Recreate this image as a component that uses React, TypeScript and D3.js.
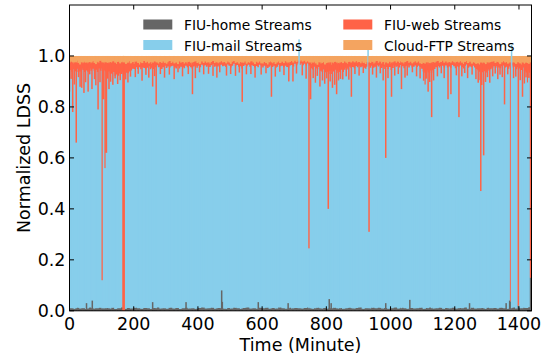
import React from 'react';
import * as d3 from 'd3';

const WIDTH = 547;
const HEIGHT = 358;
const PLOT = { left: 69.5, right: 531.5, top: 5, bottom: 310.8 };
const FONT = '"DejaVu Sans", sans-serif';

const layerKeys = ['home', 'mail', 'web', 'ftp'];
const layerNames = ['FIU-home Streams', 'FIU-mail Streams', 'FIU-web Streams', 'Cloud-FTP Streams'];
const layerColors = ['#666666', '#87ceeb', '#ff6347', '#f4a460'];

const xTicks = [0, 200, 400, 600, 800, 1000, 1200, 1400];
const yTicks = [0, 0.2, 0.4, 0.6, 0.8, 1.0];
const yTickLabels = ['0.0', '0.2', '0.4', '0.6', '0.8', '1.0'];

// FIU-mail share, one value every 5 minutes (minute 0 .. 1435)
const mailShare = [
  .935, .928, .940, .932, .925, .938, .930, .942, .934, .926, .936, .931,
  .938, .929, .941, .933, .936, .927, .939, .930, .943, .935, .928, .937,
  .930, .922, .918, .925, .915, .920, .912, .921, .916, .923, .919, .926,
  .921, .928, .934, .941, .937, .944, .939, .946, .940, .948, .942, .936,
  .944, .950, .941, .947, .938, .945, .951, .943, .949, .940, .946, .952,
  .945, .951, .943, .948, .953, .946, .940, .949, .944, .951, .947, .942,
  .950, .944, .952, .947, .941, .949, .954, .946, .951, .945, .953, .948,
  .955, .949, .953, .947, .952, .956, .950, .954, .948, .953, .957, .951,
  .954, .949, .956, .951, .946, .953, .957, .950, .955, .948, .953, .944,
  .950, .955, .947, .953, .949, .956, .951, .945, .953, .948, .954, .950,
  .945, .952, .947, .941, .950, .955, .946, .951, .944, .949, .953, .947,
  .952, .946, .954, .949, .943, .951, .956, .950, .958, .953, .960, .955,
  .961, .955, .958, .952, .957, .950, .944, .939, .948, .942, .936, .945,
  .933, .928, .936, .925, .931, .922, .930, .919, .927, .934, .924, .930,
  .926, .935, .929, .938, .944, .937, .946, .941, .948, .943, .950, .945,
  .949, .943, .951, .946, .940, .948, .953, .945, .950, .942, .948, .954,
  .947, .952, .944, .950, .938, .946, .941, .949, .935, .943, .950, .945,
  .951, .946, .953, .948, .942, .950, .955, .947, .952, .944, .949, .954,
  .947, .952, .945, .938, .931, .926, .933, .924, .930, .921, .935, .940,
  .946, .951, .943, .949, .954, .947, .952, .944, .950, .945, .953, .948,
  .943, .950, .945, .952, .947, .941, .949, .954, .946, .951, .944, .950,
  .946, .940, .934, .928, .936, .925, .932, .927, .935, .930, .938, .944,
  .949, .943, .951, .946, .940, .948, .953, .945, .950, .942, .948, .944,
  .950, .945, .939, .947, .941, .935, .943, .930, .924, .932, .920, .928,
];

// Cloud-FTP share, one value every 5 minutes
const ftpShare = [
  .028, .022, .031, .025, .019, .027, .033, .024, .029, .021, .026, .030,
  .024, .029, .020, .027, .032, .023, .028, .019, .025, .031, .022, .027,
  .030, .024, .028, .021, .026, .032, .023, .029, .025, .020, .027, .031,
  .026, .021, .029, .024, .031, .022, .027, .033, .025, .028, .020, .026,
  .023, .029, .025, .032, .027, .021, .026, .030, .024, .028, .022, .027,
  .031, .025, .020, .028, .023, .029, .026, .032, .022, .027, .024, .030,
  .025, .030, .023, .027, .033, .024, .021, .028, .026, .031, .022, .027,
  .022, .027, .025, .030, .024, .020, .028, .023, .029, .025, .021, .026,
  .024, .029, .022, .026, .031, .023, .020, .027, .025, .030, .024, .028,
  .027, .022, .030, .025, .028, .021, .026, .032, .023, .027, .022, .029,
  .030, .024, .028, .033, .025, .021, .029, .024, .031, .026, .022, .028,
  .023, .028, .021, .026, .031, .024, .020, .027, .019, .024, .018, .022,
  .017, .022, .019, .025, .021, .027, .032, .026, .023, .029, .034, .025,
  .031, .027, .024, .033, .028, .030, .025, .034, .029, .023, .031, .027,
  .030, .024, .028, .022, .026, .031, .023, .027, .021, .025, .020, .026,
  .024, .029, .022, .027, .032, .025, .021, .028, .023, .030, .026, .020,
  .027, .022, .030, .024, .033, .026, .029, .023, .031, .025, .021, .027,
  .022, .028, .021, .026, .030, .024, .020, .027, .023, .029, .025, .021,
  .026, .022, .029, .032, .027, .030, .025, .033, .028, .031, .024, .027,
  .023, .020, .027, .024, .019, .026, .022, .029, .024, .028, .021, .025,
  .029, .023, .027, .021, .026, .032, .024, .020, .028, .023, .030, .025,
  .027, .031, .029, .033, .026, .030, .028, .032, .025, .029, .024, .022,
  .021, .027, .023, .028, .032, .025, .020, .027, .024, .030, .026, .029,
  .025, .028, .031, .024, .029, .033, .027, .030, .026, .028, .031, .025,
];

// FIU-home share, one value every 10 minutes
const homeShare = [
  .010, .008, .012, .009, .011, .007, .013, .009, .010, .012, .008, .011,
  .009, .012, .007, .010, .013, .008, .011, .009, .012, .010, .008, .011,
  .010, .007, .011, .013, .009, .010, .008, .012, .009, .011, .007, .010,
  .012, .009, .010, .008, .011, .013, .009, .010, .012, .008, .011, .009,
  .008, .011, .009, .012, .010, .007, .011, .013, .009, .010, .008, .012,
  .010, .012, .008, .011, .009, .013, .010, .008, .012, .009, .011, .010,
  .009, .011, .013, .008, .010, .012, .009, .011, .007, .010, .012, .009,
  .011, .008, .010, .012, .009, .011, .013, .008, .010, .009, .012, .010,
  .012, .009, .011, .008, .010, .013, .009, .012, .010, .008, .011, .009,
  .010, .012, .008, .011, .013, .009, .010, .012, .008, .011, .009, .012,
  .009, .011, .010, .013, .008, .012, .009, .010, .011, .008, .012, .010,
  .011, .009, .012, .010, .008, .011, .013, .009, .010, .012, .011, .014,
];

// Single minutes that stand out: [minute, home, mail, web]; Cloud-FTP takes the rest
const minuteOutliers: [number, number, number, number][] = [
  [0, .01, .85, .115], [10, .01, .77, .195], [21, .01, .65, .315],
  [38, .01, .865, .10], [45, .01, .845, .12], [58, .01, .85, .115],
  [70, .01, .86, .105], [89, .01, .78, .185], [102, .01, .11, .855],
  [106, .01, .82, .145], [111, .01, .55, .415], [115, .01, .61, .355],
  [123, .01, .86, .105], [167, 0, 0, .975], [168, 0, 0, .975],
  [169, 0, 0, .975], [170, 0, 0, .975], [259, .01, .87, .095],
  [270, .01, .80, .165], [383, .01, .84, .125], [459, .01, .905, .06],
  [538, .01, .81, .155], [629, .01, .83, .135], [683, .01, .89, .075],
  [696, .01, .89, .075], [715, .01, 1.055, 0], [746, .01, .235, .73],
  [751, .01, .82, .145], [780, .01, .87, .095], [806, .01, .39, .575],
  [819, .01, .865, .10], [832, .01, .84, .125], [844, .01, .90, .065],
  [878, .01, .83, .135], [930, .01, 1.02, 0], [933, .01, .30, .665],
  [985, .01, .59, .375], [1003, .01, .83, .135], [1034, .01, .86, .105],
  [1117, .01, .85, .115], [1128, .01, .75, .215], [1179, .01, .82, .145],
  [1188, .01, .84, .125], [1213, .01, .75, .215], [1281, .01, .46, .505],
  [1290, .01, .60, .365], [1309, .01, .885, .08], [1355, .01, .80, .165],
  [1374, .035, 0, .94], [1377, .01, 1.035, 0], [1398, .02, 0, .955],
  [1411, .01, .83, .135], [1436, .13, 0, .845], [1437, .13, 0, .845],
  [1438, .13, 0, .845], [1439, .13, 0, .845],
];

// Shorter FIU-web bursts: [minute, mail share]; home and Cloud-FTP as in the 5/10-minute series
const webBursts: [number, number][] = [
  [5, .90], [15, .88], [28, .905], [33, .87], [50, .89], [63, .915], [78, .90],
  [82, .875], [95, .885], [119, .90], [128, .89], [135, .875], [142, .905],
  [150, .88], [158, .895], [175, .90], [182, .885], [190, .91], [205, .905],
  [214, .92], [226, .895], [238, .915], [247, .905], [265, .91], [283, .92],
  [296, .905], [311, .915], [326, .90], [338, .925], [352, .91], [370, .92],
  [392, .905], [405, .925], [418, .915], [433, .92], [447, .91], [468, .925],
  [489, .915], [502, .92], [517, .91], [529, .925], [551, .915], [565, .92],
  [578, .905], [597, .915], [612, .92], [641, .91], [655, .925], [668, .915],
  [707, .92], [725, .915], [737, .90], [759, .905], [766, .885], [772, .91],
  [788, .895], [795, .88], [801, .905], [812, .89], [826, .875], [838, .895],
  [851, .90], [862, .91], [870, .895], [889, .92], [902, .91], [915, .925],
  [944, .915], [956, .905], [968, .92], [977, .895], [992, .905], [1013, .91],
  [1024, .92], [1045, .905], [1052, .915], [1068, .925], [1081, .91],
  [1092, .90], [1103, .895], [1108, .88], [1112, .90], [1122, .885],
  [1134, .895], [1146, .91], [1158, .92], [1167, .905], [1205, .915],
  [1222, .91], [1231, .92], [1240, .905], [1254, .915], [1266, .90],
  [1273, .885], [1279, .895], [1284, .875], [1296, .89], [1302, .905],
  [1318, .91], [1326, .92], [1334, .90], [1341, .915], [1348, .905],
  [1365, .92], [1383, .90], [1390, .91], [1404, .895], [1417, .88],
  [1422, .905], [1427, .885], [1431, .90],
];

// Short bursts of FIU-home traffic: [minute, share]
const homePeaks: [number, number][] = [
  [53, .03], [71, .04], [259, .034], [363, .034], [474, .08], [476, .035],
  [588, .034], [681, .03], [809, .046], [815, .03], [985, .03], [1060, .043],
  [1246, .03], [1360, .03], [1371, .04],
];

type Row = { minute: number; home: number; mail: number; web: number; ftp: number };

const rows: Row[] = mailShare.map((mail, i) => {
  const home = homeShare[Math.floor(i / 2)];
  const ftp = ftpShare[i];
  return { minute: i * 5, home, mail, ftp, web: Math.max(0, 1 - home - mail - ftp) };
});

const x = d3.scaleLinear().domain([0, 1439]).range([PLOT.left, PLOT.right]);
const y = d3.scaleLinear().domain([0, 1.2]).range([PLOT.bottom, PLOT.top]);

const stacked = d3.stack<Row>().keys(layerKeys)(rows);

const cumulativeArea = d3
  .area<d3.SeriesPoint<Row>>()
  .curve(d3.curveStepAfter)
  .x((d) => x(d.data.minute))
  .y0(y(0))
  .y1((d) => y(d[1]));

const COL_W = 1.5;

// one-minute column of the four stacked shares
function minuteColumn(key: string, minute: number, parts: number[]) {
  const cx = x(minute);
  const out: React.ReactNode[] = [];
  let base = 0;
  parts.forEach((v, k) => {
    if (v > 0) {
      out.push(
        <rect
          key={`${key}-${minute}-${k}`}
          x={cx - COL_W / 2}
          width={COL_W}
          y={y(base + v)}
          height={y(base) - y(base + v)}
          fill={layerColors[k]}
        />
      );
    }
    base += v;
  });
  return out;
}

export default function App() {
  const columns: React.ReactNode[] = [];
  webBursts.forEach(([minute, mail]) => {
    const home = homeShare[Math.floor(minute / 10)];
    const ftp = ftpShare[Math.floor(minute / 5)];
    columns.push(...minuteColumn('b', minute, [home, mail, Math.max(0, 1 - home - mail - ftp), ftp]));
  });
  minuteOutliers.forEach(([minute, home, mail, web]) => {
    columns.push(...minuteColumn('o', minute, [home, mail, web, Math.max(0, 1 - home - mail - web)]));
  });

  const legendCols = [
    { rectX: 143.3, textX: 184 },
    { rectX: 343.3, textX: 384 },
  ];
  const legendRows = [19.5, 40];
  const legendItems = [0, 1, 2, 3].map((k) => ({ col: Math.floor(k / 2), row: k % 2, k }));

  return (
    <svg
      width={WIDTH}
      height={HEIGHT}
      style={{ position: 'fixed', left: 0, top: 0, background: '#fff' }}
      fontFamily={FONT}
    >
      <defs>
        <clipPath id="plot-clip">
          <rect x={PLOT.left} y={PLOT.top} width={PLOT.right - PLOT.left} height={PLOT.bottom - PLOT.top} />
        </clipPath>
      </defs>
      <rect width={WIDTH} height={HEIGHT} fill="#fff" />

      <g clipPath="url(#plot-clip)">
        {[3, 2, 1, 0].map((k) => (
          <path key={layerKeys[k]} d={cumulativeArea(stacked[k]) || ''} fill={layerColors[k]} />
        ))}
        {columns}
        {homePeaks.map(([minute, v]) => (
          <rect
            key={`h-${minute}`}
            x={x(minute) - COL_W / 2}
            width={COL_W}
            y={y(v)}
            height={y(0) - y(v)}
            fill={layerColors[0]}
          />
        ))}
      </g>

      {/* frame */}
      <rect
        x={PLOT.left}
        y={PLOT.top}
        width={PLOT.right - PLOT.left}
        height={PLOT.bottom - PLOT.top}
        fill="none"
        stroke="#000"
        strokeWidth={1}
      />

      {/* ticks, pointing inward on all sides */}
      {xTicks.map((t) => (
        <g key={`xt-${t}`}>
          <line x1={x(t)} x2={x(t)} y1={PLOT.bottom} y2={PLOT.bottom - 4.5} stroke="#000" />
          <line x1={x(t)} x2={x(t)} y1={PLOT.top} y2={PLOT.top + 4.5} stroke="#000" />
          <text x={x(t)} y={330} fontSize={17.5} textAnchor="middle" fill="#000">
            {t}
          </text>
        </g>
      ))}
      {yTicks.map((t, i) => (
        <g key={`yt-${t}`}>
          <line x1={PLOT.left} x2={PLOT.left + 4.5} y1={y(t)} y2={y(t)} stroke="#000" />
          <line x1={PLOT.right} x2={PLOT.right - 4.5} y1={y(t)} y2={y(t)} stroke="#000" />
          <text x={65.5} y={y(t) + 6.4} fontSize={17.5} textAnchor="end" fill="#000">
            {yTickLabels[i]}
          </text>
        </g>
      ))}

      <text x={(PLOT.left + PLOT.right) / 2} y={351} fontSize={17.5} textAnchor="middle" fill="#000">
        Time (Minute)
      </text>
      <text
        transform={`translate(30,${(PLOT.top + PLOT.bottom) / 2}) rotate(-90)`}
        fontSize={17.5}
        textAnchor="middle"
        fill="#000"
      >
        Normalized LDSS
      </text>

      {/* legend */}
      {legendItems.map(({ col, row, k }) => (
        <g key={`lg-${k}`}>
          <rect x={legendCols[col].rectX} y={legendRows[row]} width={29} height={10} fill={layerColors[k]} />
          <text x={legendCols[col].textX} y={legendRows[row] + 10.6} fontSize={13.8} fill="#000">
            {layerNames[k]}
          </text>
        </g>
      ))}
    </svg>
  );
}
